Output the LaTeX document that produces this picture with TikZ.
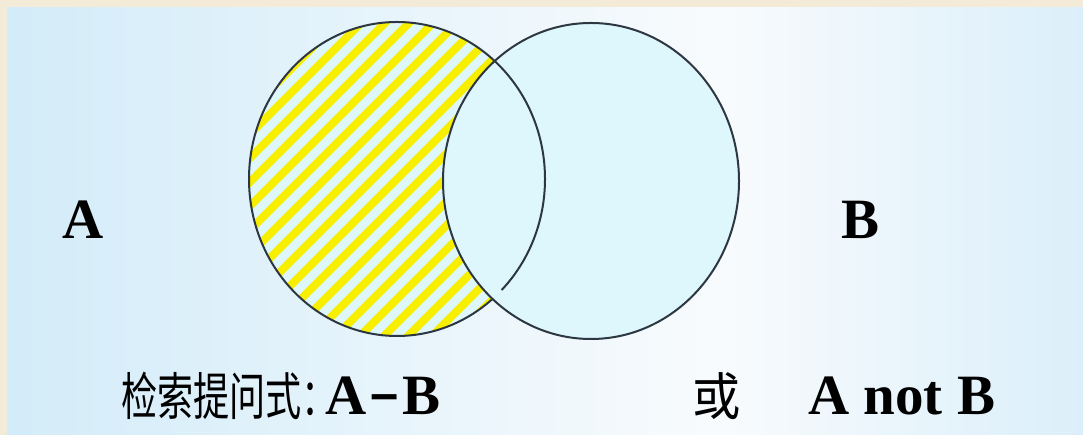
\documentclass[tikz,border=0pt]{standalone}
\usepackage{fontspec}
\setmainfont{Liberation Serif}
\newfontfamily\cjk{Noto Sans CJK SC}
\definecolor{bgL}{RGB}{211,236,249}
\definecolor{bgM}{RGB}{248,251,253}
\definecolor{bgR}{RGB}{219,239,250}
\definecolor{beige}{RGB}{244,234,216}
\definecolor{cyanfill}{RGB}{222,247,252}
\definecolor{stripe}{RGB}{248,238,0}
\definecolor{edge}{RGB}{45,55,65}
\tikzset{
  outline/.style={draw=edge,line width=2pt},
  stripeline/.style={draw=stripe,line width=8pt},
  biglabel/.style={inner sep=0pt,font=\fontsize{57}{60}\selectfont\bfseries},
  cjklabel/.style={inner sep=0pt,font=\fontsize{42}{44}\selectfont\cjk}
}
\begin{document}
\begin{tikzpicture}[x=1pt,y=1pt]
\useasboundingbox (0,0) rectangle (1083,435);
\fill[beige] (0,0) rectangle (1083,435);
\shade[left color=bgL,right color=bgM] (7,0) rectangle (720,427);
\shade[left color=bgM,right color=bgR] (719.5,0) rectangle (1083,427);
% circle A with hatching
\fill[cyanfill] (397,256) ellipse [x radius=148,y radius=157];
\begin{scope}
  \clip (397,256) ellipse [x radius=148,y radius=157];
  \foreach \i in {-25,...,25}
    \draw[stripeline] ({397+\i*24-200},56) -- ++(400,400);
\end{scope}
% circle B
\fill[cyanfill] (591,254) ellipse [x radius=148,y radius=158];
\draw[outline] (591,254) ellipse [x radius=148,y radius=158];
\draw[outline] ([shift={(-45:148 and 157)}]397,256)
  arc[start angle=-45,end angle=310,x radius=148,y radius=157];
% labels
\node[biglabel] (labA) at (83,215) {A};
\node[biglabel] (labB) at (860,215) {B};
\node[cjklabel,anchor=base west] (query) at (121,19) {\scalebox{0.86}[1.22]{检索提问式：}};
\node[biglabel,anchor=base west] (expr1) at (325,20) {A\hspace{6pt}\scalebox{0.85}[1.3]{–}\hspace{6pt}B};
\node[cjklabel,anchor=base] (orword) at (717,19) {\scalebox{1.15}[1.22]{或}};
\node[biglabel,anchor=base west] (expr2) at (808,20) {A not B};
\end{tikzpicture}
\end{document}
